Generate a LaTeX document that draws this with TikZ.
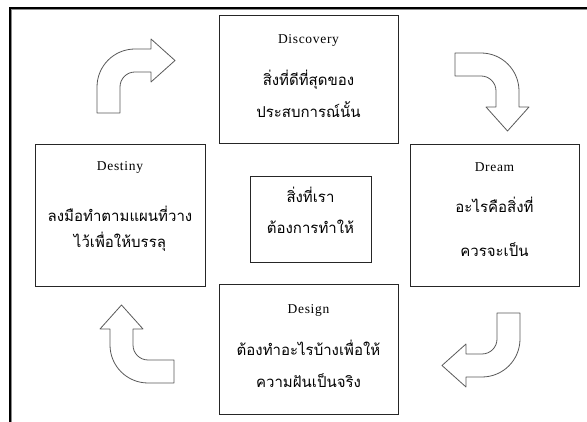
\documentclass[tikz,border=0pt]{standalone}
\usepackage{fontspec}
\setmainfont{Liberation Serif}
\newfontfamily\ttlfont[LetterSpace=5]{Liberation Serif}
\newfontfamily\thaifont[Script=Thai]{Loma}
\begin{document}
\begin{tikzpicture}[x=1pt,y=1pt,
  box/.style={draw=black!85, line width=0.8pt, inner sep=0pt},
  ttl/.style={font=\ttlfont\fontsize{13.5}{16}\selectfont, inner sep=0pt},
  th/.style={font=\thaifont\fontsize{15}{18}\selectfont, inner sep=0pt},
  barrow/.style={draw=black!65, line width=0.8pt, fill=white, line join=round},
  bent/.pic={\draw[barrow] (0,0) -- (0,26) .. controls (0,47) and (17,64) .. (38,64)
     -- (54,64) -- (54,74) -- (78,52.5) -- (54,31) -- (54,41) -- (38,41)
     .. controls (29.7,41) and (23,34.3) .. (23,26) -- (23,0) -- cycle;}]
\useasboundingbox (0,0) rectangle (587,422);
% frame
\draw[black!45, line width=0.8pt] (11.8,0) -- (11.8,412.2) -- (587,412.2);
\draw[black, line width=1.6pt] (10,0) -- (10,414) -- (587,414);
% boxes
\node[box, minimum width=179, minimum height=128] (disc) at (308.5,343) {};
\node[box, minimum width=170, minimum height=142] (dest) at (120,207) {};
\node[box, minimum width=169, minimum height=142] (drm) at (494.5,207) {};
\node[box, minimum width=121, minimum height=86] (ctr) at (310.5,203) {};
\node[box, minimum width=179, minimum height=130] (dsg) at (308.5,73) {};
% texts
\node[ttl] (discT) at (308.5,382) {Discovery};
\node[th] (discA) at (308.5,342) {สิ่งที่ดีที่สุดของ};
\node[th] (discB) at (308.5,312) {ประสบการณ์นั้น};
\node[ttl] (destT) at (120,255) {Destiny};
\node[th] (destA) at (120,208) {ลงมือทำตามแผนที่วาง};
\node[th] (destB) at (120,180) {ไว้เพื่อให้บรรลุ};
\node[ttl] (drmT) at (494.5,255) {Dream};
\node[th] (drmA) at (494.5,217) {อะไรคือสิ่งที่};
\node[th] (drmB) at (494.5,172) {ควรจะเป็น};
\node[th] (ctrA) at (310.5,227) {สิ่งที่เรา};
\node[th] (ctrB) at (310.5,195) {ต้องการทำให้};
\node[ttl] (dsgT) at (308.5,112) {Design};
\node[th] (dsgA) at (308.5,74) {ต้องทำอะไรบ้างเพื่อให้};
\node[th] (dsgB) at (308.5,41) {ความฝันเป็นจริง};
% bent arrows
\pic at (97,309) {bent};
\pic[rotate=-90] at (455,369) {bent};
\pic[rotate=180] at (520,109) {bent};
\pic[rotate=90] at (174,39) {bent};
\end{tikzpicture}
\end{document}
